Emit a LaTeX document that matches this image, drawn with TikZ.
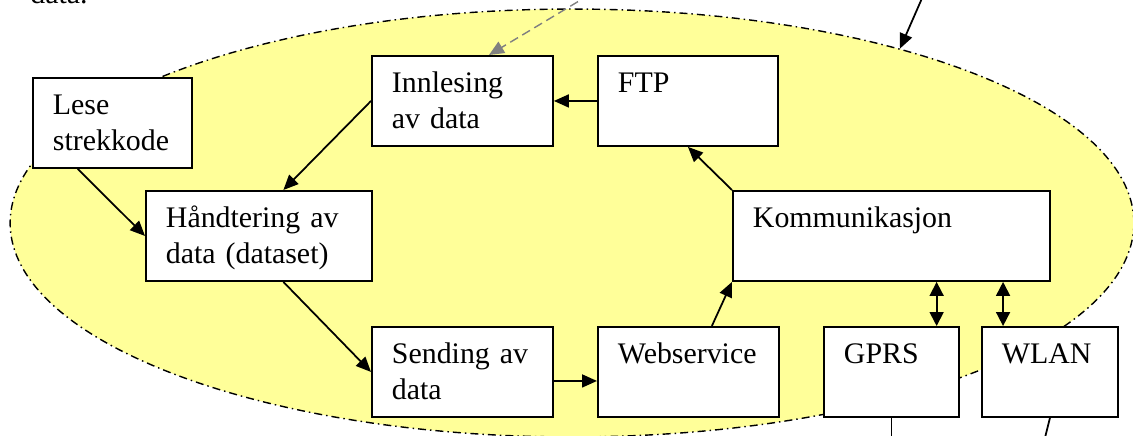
\documentclass[tikz,border=0pt]{standalone}
\usepackage{fontspec}
\setmainfont{Liberation Serif}
\usetikzlibrary{arrows.meta,shapes.geometric,calc}

\definecolor{gul}{HTML}{FFFF99}

\tikzset{
  boks/.style={draw, line width=1.1pt, fill=white, anchor=north west, align=left,
    inner xsep=0.4cm, inner ysep=0pt, text height=0.74cm, text depth=1.06cm,
    text width=#1, execute at begin node={\hyphenpenalty=10000}},
  pil/.style={line width=1pt, -{Triangle[length=0.3cm,width=0.26cm]}},
  dobbelpil/.style={line width=1pt,
    {Triangle[length=0.28cm,width=0.28cm]}-{Triangle[length=0.28cm,width=0.28cm]}},
  strekpunkt/.style={dash pattern=on 0.16cm off 0.08cm on 0.03cm off 0.08cm}
}

\begin{document}
\begin{tikzpicture}[x=0.02cm, y=-0.02cm, font=\fontsize{17}{20}\selectfont]
  \useasboundingbox (0,0) rectangle (1133,436);

  % end of the text above the figure
  \node[anchor=base west, inner sep=0pt] (forrige) at (30,4) {data.};

  % the system area
  \node[ellipse, draw, fill=gul, line width=0.8pt, strekpunkt, inner sep=0pt,
    minimum width=22.48cm, minimum height=8.56cm] (omrade) at (572,223) {};

  % modules
  \node[boks=2.38cm] (lese)   at (32,77)   {Lese\\strekkode};
  \node[boks=2.82cm] (innles) at (371,55)  {Innlesing\\av data};
  \node[boks=2.80cm] (ftp)    at (597,55)  {FTP};
  \node[boks=3.72cm] (handt)  at (145,190) {Håndtering av\\data (dataset)};
  \node[boks=2.82cm] (send)   at (371,326) {Sending av\\data};
  \node[boks=2.82cm] (websrv) at (597,326) {Webservice};
  \node[boks=5.54cm] (komm)   at (732,190) {Kommunikasjon};
  \node[boks=1.90cm] (gprs)   at (823,326) {GPRS};
  \node[boks=1.92cm] (wlan)   at (981,326) {WLAN};

  % data flow
  \draw[pil] (ftp) -- (innles);
  \draw[pil] (innles.west) -- (handt.62);
  \draw[pil] (lese.233) -- (handt.west);
  \draw[pil] (handt.298) -- (send.west);
  \draw[pil] ([yshift=-0.18cm]send.east) -- ([yshift=-0.18cm]websrv.west);
  \draw[pil] (websrv.63) -- (komm.south west);
  \draw[pil] (komm.north west) -- (ftp.south);
  \foreach \b/\f in {gprs/0.83, wlan/0.16} % links to the carriers
  {
    \coordinate (fot) at ($(\b.north west)!\f!(\b.north east)$);
    \draw[dobbelpil] (fot |- komm.south) -- (fot);
  }

  % lines leaving the figure
  \draw[line width=1pt] (gprs.south) -- ++(0,30);
  \draw[line width=1pt] (wlan.south) -- ++(-8,32);

  % callouts from above
  \coordinate (kilde) at (614,-20);
  \coordinate (merknad) at (930,-20);
  \draw[pil, gray, line width=0.8pt, dash pattern=on 0.18cm off 0.1cm] (kilde) -- (innles.60);
  \draw[pil] (merknad) -- (omrade.28);
\end{tikzpicture}
\end{document}
